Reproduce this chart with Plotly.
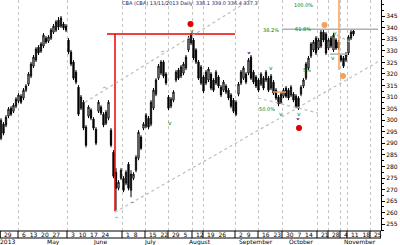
import plotly.graph_objects as go

# ---------------- data ----------------
opens = [292.2, 298.3, 297.9, 301.8, 305.2, 303.9, 306.1, 308.3, 310.4, 309.6,
         313.0, 315.6, 319.1, 323.4, 326.0, 331.6, 329.9, 332.1, 335.5, 334.2,
         335.5, 338.1, 339.0, 343.3, 340.7, 341.6, 340.7, 334.7, 329.5, 325.2,
         320.8, 314.3, 305.2, 307.8, 297.0, 301.8, 304.4, 300.5, 296.1, 303.9,
         305.7, 302.6, 298.7, 300.9, 295.7, 286.2, 277.5, 270.6, 274.9, 274.9,
         272.8, 281.0, 269.7, 274.9, 278.4, 283.6, 292.7, 296.6, 297.4, 300.9,
         298.3, 305.2, 311.3, 318.2, 320.4, 325.2, 320.0, 310.0, 306.1, 308.7,
         317.4, 321.7, 319.1, 320.4, 322.6, 330.4, 333.4, 334.7, 330.4, 325.2,
         316.1, 318.7, 316.1, 317.4, 320.0, 317.4, 316.1, 318.7, 314.3, 313.0,
         314.8, 313.0, 310.9, 308.7, 307.8, 311.3, 316.1, 318.2, 320.0, 320.4,
         327.3, 320.8, 318.7, 317.4, 315.6, 318.2, 317.4, 318.2, 313.9, 316.5,
         313.0, 310.0, 307.8, 310.4, 313.9, 313.0, 310.9, 311.3, 310.4, 309.6,
         311.3, 314.8, 318.2, 322.6, 327.8, 330.4, 335.5, 331.2, 332.1, 338.1,
         337.3, 331.2, 335.5, 330.4, 334.7, 333.8, 327.8, 326.9, 326.0, 329.1,
         335.5, 338.6]
highs = [300.9, 299.2, 302.2, 305.7, 306.1, 307.4, 310.0, 311.7, 311.3, 313.9,
         315.6, 320.8, 325.2, 328.2, 331.6, 332.5, 333.8, 337.7, 336.4, 336.8,
         339.9, 341.6, 343.3, 344.6, 345.1, 342.5, 341.6, 335.5, 330.4, 326.0,
         321.7, 315.2, 310.9, 308.7, 297.9, 306.5, 305.2, 301.3, 297.0, 308.7,
         306.5, 303.5, 304.4, 308.7, 296.6, 287.1, 279.3, 274.1, 279.3, 275.8,
         278.4, 281.9, 278.4, 277.5, 284.9, 295.7, 293.5, 299.2, 303.1, 301.8,
         308.7, 313.9, 318.2, 324.3, 326.0, 326.0, 320.8, 310.9, 310.0, 313.0,
         321.7, 322.6, 323.9, 325.2, 328.2, 336.4, 337.7, 335.5, 331.2, 326.0,
         323.9, 319.5, 321.7, 323.0, 320.8, 318.2, 321.7, 319.5, 315.2, 317.4,
         315.6, 313.9, 311.7, 309.6, 308.7, 316.5, 321.7, 323.4, 320.8, 326.9,
         328.2, 321.7, 319.5, 318.2, 320.8, 319.1, 321.7, 319.1, 320.0, 317.4,
         313.9, 310.9, 312.2, 313.9, 314.8, 313.9, 315.2, 312.2, 311.3, 310.4,
         315.2, 318.2, 325.2, 327.8, 333.8, 334.7, 336.4, 335.5, 339.0, 339.0,
         338.1, 335.5, 336.4, 337.7, 335.5, 334.7, 328.2, 327.8, 329.5, 336.8,
         339.0, 339.0]
lows = [291.4, 293.5, 297.0, 300.9, 301.8, 303.1, 305.2, 307.4, 307.0, 308.7,
        312.2, 314.8, 318.2, 322.6, 325.2, 328.2, 329.1, 331.2, 333.0, 333.4,
        334.7, 337.3, 338.1, 339.0, 339.9, 339.0, 338.1, 328.6, 323.4, 317.4,
        315.6, 301.8, 304.4, 295.7, 288.3, 300.9, 300.0, 295.7, 289.2, 303.1,
        302.2, 297.0, 297.9, 300.0, 288.3, 274.9, 261.1, 269.7, 274.1, 268.9,
        271.9, 269.7, 266.7, 274.1, 277.5, 282.7, 287.1, 295.7, 296.6, 296.1,
        297.4, 304.4, 310.4, 317.4, 319.5, 318.2, 315.2, 304.4, 305.2, 307.8,
        316.5, 317.4, 318.2, 319.5, 321.7, 329.5, 332.5, 326.0, 324.3, 317.4,
        315.2, 311.7, 315.2, 316.5, 313.0, 312.2, 315.2, 313.9, 310.0, 312.2,
        311.3, 308.7, 305.2, 303.1, 301.8, 310.4, 315.2, 317.4, 315.6, 319.5,
        317.4, 315.6, 313.9, 312.2, 314.8, 313.0, 316.5, 312.2, 313.0, 310.9,
        308.7, 306.1, 307.0, 309.6, 309.6, 308.7, 310.0, 307.8, 305.2, 304.4,
        310.4, 313.9, 317.4, 321.7, 326.9, 329.5, 328.2, 330.4, 331.2, 333.8,
        328.2, 330.4, 331.2, 329.5, 330.4, 330.4, 325.2, 322.6, 325.2, 328.2,
        334.7, 336.4]
closes = [300.0, 294.4, 301.3, 304.8, 302.6, 306.5, 309.1, 310.9, 307.8, 313.0,
          314.8, 320.0, 324.3, 327.3, 330.8, 329.1, 333.0, 336.8, 333.8, 336.0,
          339.0, 340.7, 342.5, 340.3, 344.2, 339.9, 339.0, 329.5, 324.3, 318.2,
          316.5, 302.6, 310.0, 296.6, 289.2, 305.7, 300.9, 296.6, 290.1, 307.8,
          303.1, 297.9, 303.5, 307.8, 289.2, 275.8, 270.6, 273.2, 278.4, 269.7,
          277.5, 270.6, 276.7, 276.7, 284.0, 294.8, 287.9, 298.3, 302.2, 297.0,
          307.8, 313.0, 317.4, 323.4, 325.2, 319.1, 316.1, 305.2, 309.1, 312.2,
          320.8, 318.2, 323.0, 324.3, 327.3, 335.5, 336.8, 326.9, 325.2, 318.2,
          323.0, 312.6, 320.8, 322.1, 313.9, 313.0, 320.8, 314.8, 310.9, 316.5,
          312.2, 309.6, 306.1, 303.9, 302.6, 315.6, 320.8, 322.6, 316.5, 326.0,
          318.2, 316.5, 314.8, 313.0, 320.0, 313.9, 320.8, 313.0, 319.1, 311.7,
          309.6, 307.0, 311.3, 313.0, 310.4, 309.6, 314.3, 308.7, 306.1, 305.2,
          314.3, 317.4, 324.3, 326.9, 333.0, 333.8, 329.1, 334.7, 338.1, 334.7,
          329.1, 334.7, 332.1, 336.8, 331.2, 331.2, 326.0, 323.4, 328.6, 336.0,
          338.1, 337.3]

# week separators (bar index) and their day labels, month labels
week_marks = [-0.4, 6.8, 26.4, 48.4, 57.6, 66.8, 76.4, 80.8, 93.6, 102.8,
              112.4, 126.4, 130.8, 135.6, 138.4, 147.6, 152.0]
day_labels = ["29", "6  13  20  27", "3  10  17  24", "1  8", "15  22", "29  5",
              "12", "19  26", "2  9", "16  23", "30  7  14", "21", "28", "4",
              "11  18", "25"]
month_labels = ["2013", "May", "June", "July", "August", "September", "October", "November"]
month_pos = [2.4, 20.8, 39.6, 59.6, 79.6, 102.0, 120.0, 143.6]
y_ticks = [255, 260, 265, 270, 275, 280, 285, 290, 295, 300,
           305, 310, 315, 320, 325, 330, 335, 340, 345]

# indicator labels (bar index, price, text)
fib_labels = [(120.8, 349.8, "100.0%"), (107.8, 339.0, "38.2%"), (120.8, 339.4, "61.8%"),
              (106.4, 304.8, "50.0%"), (122.4, 321.7, "5%")]
sig_labels = [(64.4, 329.1, "^"), (41.2, 313.9, "^"), (67.6, 299.2, "v"), (46.0, 257.6, "^"),
              (52.4, 265.8, "_"), (112.0, 303.1, "v"), (119.2, 303.1, "v"), (133.6, 338.1, "v"),
              (132.8, 327.3, "v"), (108.0, 322.6, "v"), (76.4, 339.0, "v")]
red_dots_x = [75.8, 119.2]
red_dots_y = [341.6, 296.6]
orange_dots_x = [129.4, 136.8]
orange_dots_y = [341.2, 319.1]
purple_x = [99.2, 118.8]
purple_y = [329.1, 300.5]

idx = list(range(len(opens)))

fig = go.Figure()
fig.add_trace(go.Candlestick(
    x=idx, open=opens, high=highs, low=lows, close=closes,
    increasing=dict(line=dict(color="black", width=1), fillcolor="white"),
    decreasing=dict(line=dict(color="black", width=1), fillcolor="black"),
    whiskerwidth=0, showlegend=False, hoverinfo="skip"))

fig.add_trace(go.Scatter(x=red_dots_x, y=red_dots_y, mode="markers",
                         marker=dict(color="#e00000", size=6), showlegend=False))
fig.add_trace(go.Scatter(x=orange_dots_x, y=orange_dots_y, mode="markers",
                         marker=dict(color="#f5a05a", size=6), showlegend=False))
fig.add_trace(go.Scatter(x=purple_x, y=purple_y, mode="markers",
                         marker=dict(color="#6a1a8a", size=3, symbol="triangle-down"),
                         showlegend=False))

shapes = []
# red support/resistance
shapes.append(dict(type="line", x0=42.4, x1=93.6, y0=337.3, y1=337.3,
                   line=dict(color="#ee0000", width=1.5)))
shapes.append(dict(type="line", x0=45.6, x1=45.6, y0=337.3, y1=260.6,
                   line=dict(color="#ee0000", width=1.5)))
# grey horizontal lines
shapes.append(dict(type="line", x0=112.4, x1=150.8, y0=339.4, y1=339.4,
                   line=dict(color="#b0b0b0", width=1.5)))
shapes.append(dict(type="line", x0=131.6, x1=138.8, y0=328.6, y1=328.6,
                   line=dict(color="#b0b0b0", width=1.5)))
# orange lines
shapes.append(dict(type="line", x0=135.2, x1=135.2, y0=352, y1=321.7,
                   line=dict(color="#f5a05a", width=1.5)))
shapes.append(dict(type="line", x0=108.8, x1=114.0, y0=312.2, y1=312.2,
                   line=dict(color="#f5a05a", width=1.5)))
# dotted trend lines
for (xa, ya, xb, yb) in [(45.6, 260.2, 152.0, 326.0), (33.6, 307.8, 99.6, 352.0),
                         (102.8, 309.6, 126.8, 303.1), (134.4, 336.8, 139.6, 333.8)]:
    shapes.append(dict(type="line", x0=xa, x1=xb, y0=ya, y1=yb,
                       line=dict(color="#bdbdbd", width=1.2, dash="dot")))

# bottom date strip
row_h = 7 / 231
shapes.append(dict(type="rect", xref="x", yref="paper", x0=-0.4, x1=152.0,
                   y0=-row_h, y1=0, line=dict(color="black", width=1)))
for w in week_marks:
    shapes.append(dict(type="line", xref="x", yref="paper", x0=w, x1=w,
                       y0=-row_h, y1=0, line=dict(color="black", width=1)))

annotations = []
for i, t in enumerate(day_labels):
    annotations.append(dict(x=week_marks[i] + 0.6, y=-row_h / 2, xref="x", yref="paper",
                            text=t, showarrow=False, xanchor="left", yanchor="middle",
                            font=dict(size=6, color="black", family="DejaVu Sans")))
for m, p in zip(month_labels, month_pos):
    annotations.append(dict(x=p, y=-10.5 / 231, xref="x", yref="paper", text=m,
                            showarrow=False, xanchor="center", yanchor="middle",
                            font=dict(size=6, color="black", family="DejaVu Sans")))
for (x, y, t) in fib_labels:
    annotations.append(dict(x=x, y=y, text=t, showarrow=False,
                            font=dict(size=5, color="#008000", family="DejaVu Sans")))
for (x, y, t) in sig_labels:
    annotations.append(dict(x=x, y=y, text=t, showarrow=False,
                            font=dict(size=6, color="#008000", family="DejaVu Sans")))
annotations.append(dict(x=47.6, y=350.3, xanchor="left",
                        text="CBA (CBA) 13/11/2013 Daily: 338.1 339.0 336.4 337.3",
                        showarrow=False, font=dict(size=5, color="#202060", family="DejaVu Sans")))

fig.update_layout(
    width=400, height=245,
    margin=dict(l=0, r=19, t=0, b=14),
    paper_bgcolor="white", plot_bgcolor="white",
    showlegend=False,
    shapes=shapes, annotations=annotations,
    xaxis=dict(range=[-0.4, 152.0], tickvals=week_marks, showticklabels=False,
               showgrid=True, gridcolor="#c4c4c4", griddash="dot", gridwidth=1,
               zeroline=False, showline=False, ticks="", rangeslider=dict(visible=False)),
    yaxis=dict(side="right", range=[252.1, 352.0], tickvals=y_ticks,
               ticks="outside", ticklen=3, tickcolor="black",
               showline=True, linecolor="black", linewidth=1,
               showgrid=False, zeroline=False,
               tickfont=dict(size=6, color="black", family="DejaVu Sans"),
               minor=dict(ticks="outside", ticklen=2, tickcolor="black", dtick=2.5)),
)

fig.write_html("out.html")
